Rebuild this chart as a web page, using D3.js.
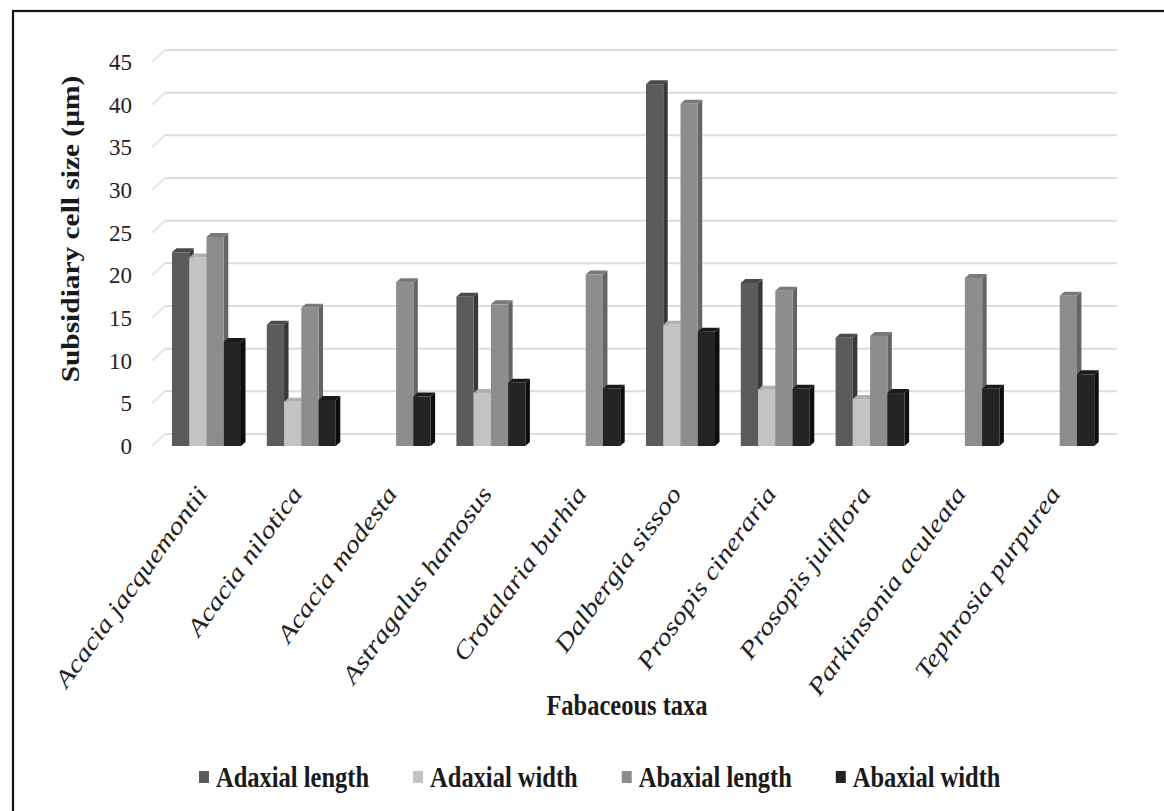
<!DOCTYPE html>
<html>
<head>
<meta charset="utf-8">
<script src="https://cdn.jsdelivr.net/npm/d3@7"></script>
<style>
  html, body { margin: 0; padding: 0; background: #fff; }
  svg { display: block; }
</style>
</head>
<body>
<svg id="chart" width="1164" height="811"></svg>
<script>
// ---------------- data ----------------
const taxa = ["Acacia jacquemontii", "Acacia nilotica", "Acacia modesta", "Astragalus hamosus",
  "Crotalaria burhia", "Dalbergia sissoo", "Prosopis cineraria", "Prosopis juliflora",
  "Parkinsonia aculeata", "Tephrosia purpurea"];
const seriesNames = ["Adaxial length", "Adaxial width", "Abaxial length", "Abaxial width"];
const adaxialLength = [22.7, 14.2, null, 17.5, null, 42.4, 19.1, 12.7, null, null];
const adaxialWidth  = [22.1,  5.2, null,  6.2, null, 14.2,  6.6,  5.5, null, null];
const abaxialLength = [24.5, 16.2, 19.2, 16.6, 20.1, 40.1, 18.2, 12.9, 19.7, 17.6];
const abaxialWidth  = [12.2,  5.4,  5.8,  7.4,  6.7, 13.4,  6.7,  6.2,  6.7,  8.4];
const yTicks = [0, 5, 10, 15, 20, 25, 30, 35, 40, 45];
const yTitle = "Subsidiary cell size (µm)";
const xTitle = "Fabaceous taxa";

const seriesValues = [adaxialLength, adaxialWidth, abaxialLength, abaxialWidth];
const frontColors = ["#5b5b5b", "#c3c3c3", "#8d8d8d", "#242424"];
const topColors   = ["#4a4a4a", "#b0b0b0", "#7a7a7a", "#1a1a1a"];
const sideColors  = ["#383838", "#9a9a9a", "#656565", "#0e0e0e"];

// ---------------- layout ----------------
const svg = d3.select("#chart");
svg.append("rect").attr("width", 1164).attr("height", 811).attr("fill", "#fff");
// outer frame (right/bottom edges fall outside the picture)
svg.append("rect").attr("x", 13).attr("y", 11).attr("width", 1300).attr("height", 1000)
  .attr("fill", "none").attr("stroke", "#111").attr("stroke-width", 2.2);

const y = d3.scaleLinear().domain([0, 45]).range([446, 62]);
const x0 = d3.scaleBand().domain(taxa).range([159.1, 1107.1]).paddingInner(0.272).paddingOuter(0.136);
const x1 = d3.scaleBand().domain(seriesNames).range([0, x0.bandwidth()]).padding(0);

const depthX = 13, depthY = 12;     // back wall offset
const wallLeft = 152, wallRight = 1104;

// gridlines on back wall
const grid = svg.append("g").attr("stroke", "#dcdcdc").attr("stroke-width", 2).attr("fill", "none");
yTicks.forEach(v => {
  grid.append("line").attr("x1", wallLeft + depthX).attr("x2", wallRight + depthX)
    .attr("y1", y(v) - depthY).attr("y2", y(v) - depthY);
  grid.append("line").attr("x1", wallLeft).attr("x2", wallLeft + depthX)
    .attr("y1", y(v)).attr("y2", y(v) - depthY).attr("stroke", "#e6e6e6");
});

// y axis labels
const yAxis = d3.axisLeft(y).tickValues(yTicks).tickSize(0).tickPadding(0);
const gy = svg.append("g").attr("transform", "translate(132,0)").call(yAxis);
gy.select(".domain").remove();
gy.selectAll("text").attr("font-family", "'Liberation Serif', 'Times New Roman', serif")
  .attr("font-size", 23).attr("fill", "#222");

// bars (3D style)
const bw = x1.bandwidth();
const bdx = 4.5, bdy = 4;
const barsG = svg.append("g");
taxa.forEach((t, i) => {
  seriesNames.forEach((s, k) => {
    const v = seriesValues[k][i];
    if (v === null || v === undefined) return;
    const bx = x0(t) + x1(s);
    const top = y(v), base = y(0);
    const g = barsG.append("g");
    g.append("polygon")
      .attr("points", [[bx + bw, top], [bx + bw + bdx, top - bdy], [bx + bw + bdx, base - bdy], [bx + bw, base]].map(p => p.join(",")).join(" "))
      .attr("fill", sideColors[k]);
    g.append("polygon")
      .attr("points", [[bx, top], [bx + bdx, top - bdy], [bx + bw + bdx, top - bdy], [bx + bw, top]].map(p => p.join(",")).join(" "))
      .attr("fill", topColors[k]);
    g.append("rect").attr("x", bx).attr("y", top).attr("width", bw).attr("height", base - top)
      .attr("fill", frontColors[k]);
  });
});

// x category labels
const xAxis = d3.axisBottom(x0).tickSize(0).tickPadding(0);
const gx = svg.append("g").call(xAxis);
gx.select(".domain").remove();
gx.selectAll(".tick").attr("transform", d => `translate(${x0(d) + x0.bandwidth() / 2 + 2},494)`);
gx.selectAll("text")
  .attr("y", 0).attr("dy", 0)
  .attr("text-anchor", "end")
  .attr("transform", "rotate(-54) scale(1.22,1)")
  .attr("font-family", "'Liberation Serif', 'Times New Roman', serif")
  .attr("font-style", "italic")
  .attr("font-size", 24)
  .attr("fill", "#222");

const boldFont = "'Liberation Serif', 'Times New Roman', serif";

// axis titles
svg.append("text")
  .attr("transform", "translate(627,705) scale(1,1.2)")
  .attr("text-anchor", "middle").attr("dy", "0.35em")
  .attr("font-family", boldFont).attr("font-weight", "bold").attr("font-size", 24.5)
  .attr("fill", "#1a1a1a").text(xTitle);

svg.append("text")
  .attr("transform", "translate(70,229) rotate(-90) scale(1.2,1)")
  .attr("text-anchor", "middle").attr("dy", "0.35em")
  .attr("font-family", boldFont).attr("font-weight", "bold").attr("font-size", 24.5)
  .attr("fill", "#1a1a1a").text(yTitle);

// legend
const legend = svg.append("g");
let cx = 199;
const ly = 777;
seriesNames.forEach((s, k) => {
  legend.append("rect").attr("x", cx).attr("y", ly - 6).attr("width", 10).attr("height", 12)
    .attr("fill", frontColors[k]);
  const tx = legend.append("text")
    .attr("transform", `translate(${cx + 17},${ly}) scale(1,1.2)`)
    .attr("dy", "0.35em")
    .attr("font-family", boldFont).attr("font-weight", "bold").attr("font-size", 24.5)
    .attr("fill", "#1a1a1a").text(s);
  const w = tx.node().getComputedTextLength();
  cx = cx + 17 + w + 44;
});
</script>
</body>
</html>
